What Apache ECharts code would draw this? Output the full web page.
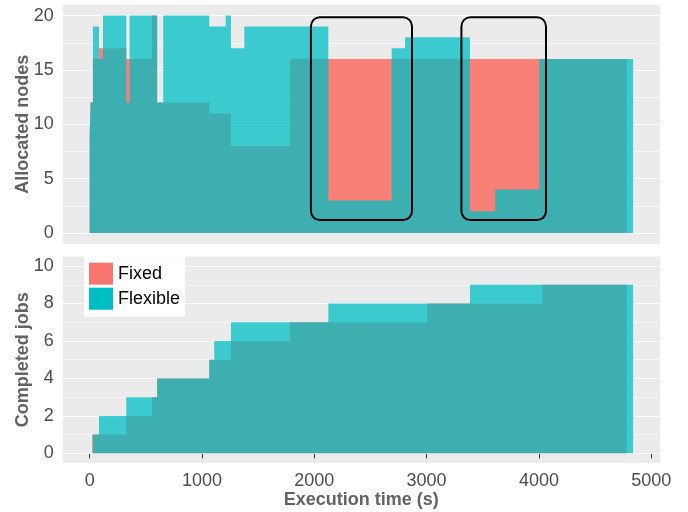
<!DOCTYPE html>
<html>
<head>
<meta charset="utf-8">
<script src="https://cdn.jsdelivr.net/npm/echarts@6/dist/echarts.min.js"></script>
<style>
  html, body { margin: 0; padding: 0; background: #ffffff; }
  #chart { width: 688px; height: 512px; }
</style>
</head>
<body>
<div id="chart"></div>
<script>
// Allocated nodes: each time (s) starts a new level that holds until the next time.
const fixedNodeTimes  = [0, 8, 29, 83, 326, 555, 601, 1065, 1258, 1784, 4782];
const fixedNodeValues = [9, 12, 16, 17, 16, 20, 12, 11, 8, 16, 0];
const flexNodeTimes   = [0, 8, 29, 83, 119, 326, 356, 601, 655, 1065, 1211, 1258, 1377, 2125, 2689, 2808, 3386, 3610, 4004, 4838];
const flexNodeValues  = [9, 12, 19, 16, 20, 12, 20, 12, 20, 19, 20, 17, 19, 3, 17, 18, 2, 4, 16, 0];

// Completed jobs, same step layout.
const fixedJobTimes  = [0, 23, 326, 555, 601, 1065, 1258, 1784, 3006, 4030, 4782];
const fixedJobValues = [0, 1, 2, 3, 4, 5, 6, 7, 8, 9, 0];
const flexJobTimes   = [0, 29, 83, 326, 601, 1065, 1109, 1258, 2125, 3386, 4838];
const flexJobValues  = [0, 1, 2, 3, 4, 5, 6, 7, 8, 9, 0];

// Highlighted periods: [start time, end time, low nodes, high nodes]
const highlightBoxes = [[1970, 2870, 1.2, 19.85], [3310, 4063, 1.2, 19.85]];

// Tick labels
const timeTicks = [0, 1000, 2000, 3000, 4000, 5000];
const nodeTicks = [0, 5, 10, 15, 20];
const jobTicks  = [0, 2, 4, 6, 8, 10];

const seriesNames = ['Fixed', 'Flexible'];
const FIXED_COLOR = '#F8766D';
const FLEX_COLOR = '#00BFC4';
const FIXED_FILL = 'rgba(248,118,109,0.92)';
const FLEX_FILL = 'rgba(0,191,196,0.75)';
const FONT = '"Liberation Sans", Arial, sans-serif';

const pairs = (t, v) => t.map((x, i) => [x, v[i]]);
const midpoints = ticks => ticks.slice(1).map((v, i) => (v + ticks[i]) / 2);
const plain = v => String(v);

function gridLineSeries(axisIndex, major, minor) {
  const lines = major.map(v => ({ yAxis: v, lineStyle: { width: 1.2 } }))
    .concat(minor.map(v => ({ yAxis: v, lineStyle: { width: 0.6 } })));
  return {
    type: 'line', xAxisIndex: axisIndex, yAxisIndex: axisIndex,
    data: [[0, 0]], showSymbol: false, silent: true, z: 1,
    lineStyle: { opacity: 0 },
    markLine: {
      silent: true, z: 1, symbol: ['none', 'none'], animation: false,
      label: { show: false },
      emphasis: { disabled: true },
      lineStyle: { color: '#ffffff', type: 'solid' },
      data: lines
    }
  };
}

function stepArea(name, axisIndex, data, color, fill) {
  return {
    name, type: 'line', step: 'end', xAxisIndex: axisIndex, yAxisIndex: axisIndex,
    data, showSymbol: false, symbol: 'none', z: 2,
    color,
    itemStyle: { color },
    lineStyle: { width: 0, opacity: 0 },
    areaStyle: { color: fill, opacity: 1, origin: 0 },
    emphasis: { disabled: true },
    silent: true
  };
}

const xCommon = {
  type: 'value', min: -240, max: 5078,
  splitLine: { show: false },
  axisLine: { show: false }
};

const yCommon = {
  type: 'value',
  splitLine: { show: false },
  axisLine: { show: false },
  axisTick: { show: true, length: 5, lineStyle: { color: '#333333', width: 1 } },
  axisLabel: { fontSize: 18, color: '#4D4D4D', fontFamily: FONT, margin: 9, formatter: plain },
  nameLocation: 'middle',
  nameGap: 31,
  nameMoveOverlap: false,
  nameTextStyle: { fontSize: 18, fontWeight: 'bold', color: '#636363', fontFamily: FONT }
};

const chart = echarts.init(document.getElementById('chart'), null, { renderer: 'canvas' });

chart.setOption({
  animation: false,
  backgroundColor: '#ffffff',
  grid: [
    { left: 62.7, top: 4.7, width: 597.3, height: 239.3, outerBoundsMode: 'none', show: true, backgroundColor: '#EBEBEB', borderWidth: 0 },
    { left: 62.7, top: 256.7, width: 597.3, height: 206, outerBoundsMode: 'none', show: true, backgroundColor: '#EBEBEB', borderWidth: 0 }
  ],
  xAxis: [
    Object.assign({}, xCommon, {
      gridIndex: 0,
      axisTick: { show: false },
      axisLabel: { show: false }
    }),
    Object.assign({}, xCommon, {
      gridIndex: 1,
      name: 'Execution time (s)',
      nameLocation: 'middle',
      nameGap: 28,
      nameMoveOverlap: false,
      nameTextStyle: { fontSize: 18, fontWeight: 'bold', color: '#636363', fontFamily: FONT },
      axisTick: { show: true, length: 5, customValues: timeTicks, lineStyle: { color: '#333333', width: 1 } },
      axisLabel: { fontSize: 18, color: '#4D4D4D', fontFamily: FONT, margin: 9, customValues: timeTicks, formatter: plain }
    })
  ],
  yAxis: [
    Object.assign({}, yCommon, {
      gridIndex: 0, min: -1, max: 21, name: 'Allocated nodes',
      axisTick: Object.assign({}, yCommon.axisTick, { customValues: nodeTicks }),
      axisLabel: Object.assign({}, yCommon.axisLabel, { customValues: nodeTicks })
    }),
    Object.assign({}, yCommon, {
      gridIndex: 1, min: -0.5, max: 10.5, name: 'Completed jobs',
      axisTick: Object.assign({}, yCommon.axisTick, { customValues: jobTicks }),
      axisLabel: Object.assign({}, yCommon.axisLabel, { customValues: jobTicks })
    })
  ],
  legend: {
    data: seriesNames,
    orient: 'vertical',
    left: 84, top: 256.7,
    icon: 'rect',
    itemWidth: 24, itemHeight: 22, itemGap: 3,
    padding: [6, 5, 7, 5],
    backgroundColor: '#ffffff',
    selectedMode: false,
    textStyle: { fontSize: 18, color: '#000000', fontFamily: FONT }
  },
  series: [
    gridLineSeries(0, nodeTicks, midpoints(nodeTicks)),
    gridLineSeries(1, jobTicks, midpoints(jobTicks)),
    stepArea('Fixed', 0, pairs(fixedNodeTimes, fixedNodeValues), FIXED_COLOR, FIXED_FILL),
    stepArea('Flexible', 0, pairs(flexNodeTimes, flexNodeValues), FLEX_COLOR, FLEX_FILL),
    stepArea('Fixed', 1, pairs(fixedJobTimes, fixedJobValues), FIXED_COLOR, FIXED_FILL),
    stepArea('Flexible', 1, pairs(flexJobTimes, flexJobValues), FLEX_COLOR, FLEX_FILL),
    {
      type: 'custom', xAxisIndex: 0, yAxisIndex: 0, z: 5, silent: true,
      data: highlightBoxes,
      encode: { x: [0, 1], y: [2, 3] },
      renderItem: (params, api) => {
        const a = api.coord([api.value(0), api.value(3)]);
        const b = api.coord([api.value(1), api.value(2)]);
        return {
          type: 'rect',
          shape: { x: a[0], y: a[1], width: b[0] - a[0], height: b[1] - a[1], r: 9 },
          style: { fill: 'none', stroke: '#000000', lineWidth: 2 }
        };
      }
    }
  ]
});
</script>
</body>
</html>
